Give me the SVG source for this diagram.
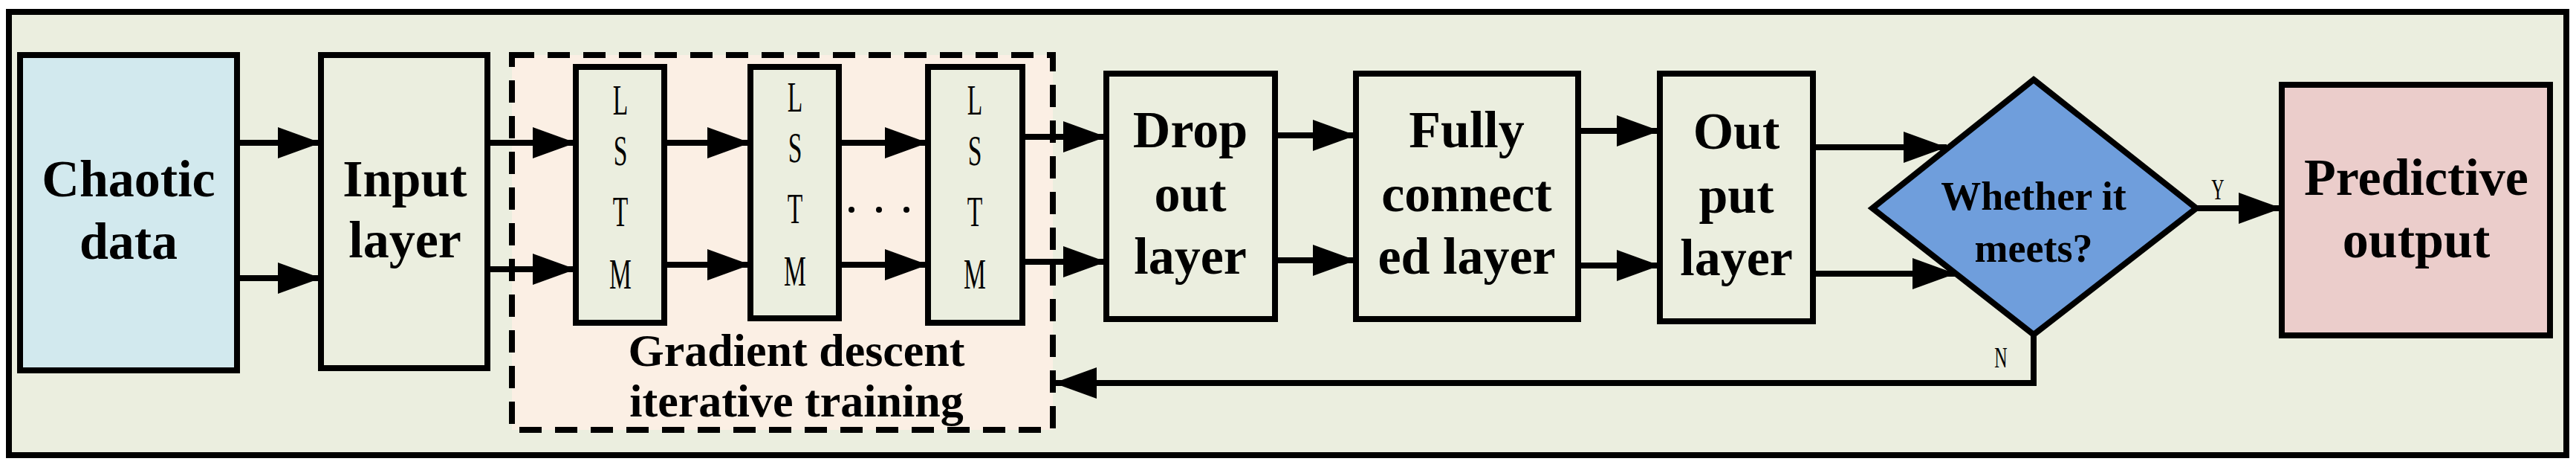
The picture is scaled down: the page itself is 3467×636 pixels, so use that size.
<svg xmlns="http://www.w3.org/2000/svg" width="3467" height="636" viewBox="0 0 3467 636">
<style>
.b{stroke:#000;stroke-width:8;fill:#ebeedf}
.t{font-family:"Liberation Serif",serif;font-weight:bold;font-size:70px;text-anchor:middle}
.s{font-family:"Liberation Serif",serif;font-size:56px;text-anchor:middle}
.l{stroke:#000;stroke-width:8;fill:none}
</style>
<defs><marker id="a" markerUnits="userSpaceOnUse" markerWidth="60" markerHeight="44" refX="58" refY="21" orient="auto"><path d="M0,0L58,21L0,42z"/></marker></defs>
<rect x="0" y="0" width="3467" height="636" fill="#fff"/>
<rect x="12" y="16" width="3442" height="596" class="b"/>
<g id="chaotic"><rect x="27" y="74" width="292" height="424" class="b" fill="#d2e9ee" style="fill:#d2e9ee"/><text class="t" x="173" y="264">Chaotic</text><text class="t" x="173" y="348">data</text></g>
<g id="input"><rect x="432" y="74" width="224" height="421" class="b"/><text class="t" x="545" y="264">Input</text><text class="t" x="545" y="346">layer</text></g>
<g id="training"><rect x="689" y="74" width="728" height="504" class="l" style="fill:#fbefe4" stroke-dasharray="30,18"/>
<text class="t" x="1072" y="492" font-size="62" style="font-size:62px">Gradient descent</text><text class="t" x="1072" y="560" style="font-size:62px">iterative training</text></g>
<g id="lstm1"><rect x="775" y="90" width="119" height="344" class="b"/><g class="s"><text transform="translate(835,0) scale(0.6,1)" y="154">L</text><text transform="translate(835,0) scale(0.6,1)" y="222">S</text><text transform="translate(835,0) scale(0.6,1)" y="304">T</text><text transform="translate(835,0) scale(0.6,1)" y="388">M</text></g></g>
<g id="lstm2"><rect x="1010" y="90" width="119" height="338" class="b"/><g class="s"><text transform="translate(1070,0) scale(0.6,1)" y="150">L</text><text transform="translate(1070,0) scale(0.6,1)" y="218">S</text><text transform="translate(1070,0) scale(0.6,1)" y="300">T</text><text transform="translate(1070,0) scale(0.6,1)" y="384">M</text></g></g>
<g id="lstm3"><rect x="1249" y="90" width="127" height="344" class="b"/><g class="s"><text transform="translate(1312,0) scale(0.6,1)" y="154">L</text><text transform="translate(1312,0) scale(0.6,1)" y="222">S</text><text transform="translate(1312,0) scale(0.6,1)" y="304">T</text><text transform="translate(1312,0) scale(0.6,1)" y="388">M</text></g></g>
<g id="dots"><circle cx="1146" cy="282" r="4"/><circle cx="1183" cy="282" r="4"/><circle cx="1220" cy="282" r="4"/></g>
<g id="dropout"><rect x="1489" y="99" width="227" height="330" class="b"/><text class="t" x="1602" y="198">Drop</text><text class="t" x="1602" y="284">out</text><text class="t" x="1602" y="368">layer</text></g>
<g id="fully"><rect x="1825" y="99" width="299" height="330" class="b"/><text class="t" x="1974" y="198">Fully</text><text class="t" x="1974" y="284">connect</text><text class="t" x="1974" y="368">ed layer</text></g>
<g id="output"><rect x="2234" y="99" width="206" height="333" class="b"/><text class="t" x="2337" y="200">Out</text><text class="t" x="2337" y="286">put</text><text class="t" x="2337" y="370">layer</text></g>
<g id="decision"><path d="M2737,107L2956,280L2737,450L2520,280z" class="b" style="fill:#6f9edc"/><text class="t" x="2737" y="282" style="font-size:54px">Whether it</text><text class="t" x="2737" y="352" style="font-size:54px">meets?</text></g>
<g id="predictive"><rect x="3071" y="114" width="361" height="337" class="b" style="fill:#ebcdcb"/><text class="t" x="3252" y="262">Predictive</text><text class="t" x="3252" y="346">output</text></g>
<g id="connectors" class="l" marker-end="url(#a)">
<path d="M319,192H432"/><path d="M319,374H432"/>
<path d="M656,192H775"/><path d="M656,362H775"/>
<path d="M894,192H1010"/><path d="M894,356H1010"/>
<path d="M1129,192H1249"/><path d="M1129,356H1249"/>
<path d="M1376,184H1489"/><path d="M1376,352H1489"/>
<path d="M1716,182H1825"/><path d="M1716,350H1825"/>
<path d="M2124,176H2234"/><path d="M2124,357H2234"/>
<path d="M2440,198H2620"/><path d="M2440,368H2632"/>
<path d="M2956,280H3071"/>
<path d="M2737,450V515H1418"/>
</g>
<text class="s" x="2985" y="268" style="font-size:40px" transform="translate(2985,0) scale(0.6,1) translate(-2985,0)">Y</text>
<text class="s" x="2693" y="494" style="font-size:40px" transform="translate(2693,0) scale(0.6,1) translate(-2693,0)">N</text>
</svg>
